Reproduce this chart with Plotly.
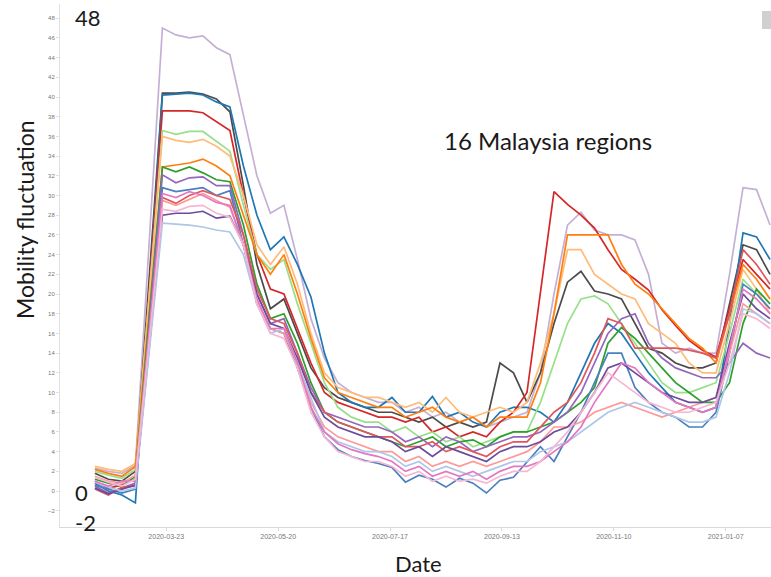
import pandas as pd
import plotly.graph_objects as go

# weekly observation dates
dates = pd.date_range("2020-02-15", periods=51, freq="7D")

region_01 = [2.3, 2.0, 1.8, 2.6, 24.8, 47.0, 46.3, 46.0, 46.2, 45.0, 44.3,
             38, 32, 28.2, 29.0, 23.5, 17.5, 13.5,
             11, 10, 9.5, 9, 9, 8, 8.5, 7.5, 8, 7, 7.5, 6.5, 7, 7.5,
             8, 12, 20, 27, 28.3, 26.5, 26, 26, 25.5,
             22, 15, 14, 14.5, 14, 14,
             22, 30.8, 30.6, 27]
region_02 = [1.8, 1.2, 1.0, 2.0, 21.2, 40.4, 40.4, 40.5, 40.3, 39.8, 38.5,
             31, 23, 18.5, 19.5, 16, 12.5, 10.5,
             9.5, 9, 8.5, 8, 8, 7.5, 7, 7.5, 6.5, 7, 6.5, 7, 13, 12,
             9, 12, 17, 21.2, 22.3, 20.3, 20, 19.5, 17,
             14.5, 14, 13, 12.5, 12.5, 13,
             19, 25, 24.5, 22]
region_03 = [0.8, 0.0, -0.4, -1.2, 19.5, 40.2, 40.3, 40.4, 40.2, 39.5, 39.0,
             33, 28, 24.5, 25.8, 23, 19.7, 14,
             10, 9, 8.5, 8.5, 9.5, 8, 8, 9.6, 7.5, 8, 7, 6.5, 8, 8.5,
             8.5, 8, 7, 9, 12, 15, 17, 16, 14,
             12, 10.5, 9, 8.5, 8, 8.5,
             17, 26.2, 25.8, 23.5]
region_04 = [1.0, 0.3, 0.6, 1.2, 19.9, 38.6, 38.6, 38.6, 38.4, 37.5, 36.6,
             30, 24, 20.5, 20, 16.5, 13, 10,
             9, 8.5, 8, 7.5, 7.5, 7, 7.5, 6, 6.5, 5.5, 6, 5.5, 7, 8,
             10, 20, 30.4, 29.1, 28, 26.7, 24.5, 22.5, 21.5,
             20.4, 18.4, 16.8, 15.3, 14.3, 13.6,
             18.5, 23.5, 22, 20.5]
region_05 = [2.0, 1.6, 1.3, 2.2, 19.4, 36.6, 36.2, 36.5, 36.5, 35.5, 34.5,
             29, 24, 22.5, 23.5, 19, 15, 11,
             8.5, 7.5, 7, 7, 6, 6.5, 5.5, 6, 5, 5.5, 4.5, 5, 5.5, 6,
             6, 9, 13, 17, 19.5, 19.8, 19, 17, 15,
             13, 11, 10, 10, 10.5, 11,
             16, 21.5, 20, 18.5]
region_06 = [2.5, 2.2, 2.0, 2.8, 19.4, 36.0, 35.6, 35.4, 35.7, 35.0, 34.0,
             30, 25, 23, 24.8, 21, 16, 12,
             10.5, 10, 9.5, 9.5, 9, 8.5, 9, 8, 9.5, 8, 7.5, 8, 8.5, 8,
             9, 13, 18, 24.5, 24.5, 22, 21, 20, 19.5,
             17, 16, 15, 13, 12, 12,
             17, 22.5, 20.5, 18]
region_07 = [2.2, 1.8, 1.5, 2.5, 17.7, 32.9, 33.1, 33.3, 33.7, 33.0, 32.0,
             28, 24, 22, 24, 20, 15.5, 11.5,
             10, 9.5, 9, 8.5, 8.5, 7.5, 8, 8.5, 7.5, 7, 7.5, 6.5, 7.5, 7.5,
             7.5, 11, 18, 26, 26, 26, 26, 23, 21,
             20, 18.5, 17, 15.5, 14.5, 13,
             18, 23, 21.5, 19.5]
region_08 = [1.2, 0.8, 0.5, 1.5, 17.2, 32.9, 32.4, 32.9, 32.3, 31.6, 31.4,
             27, 21, 17.5, 18, 15, 11, 8,
             7, 6.5, 6, 5.5, 5, 4.5, 5, 5.5, 4.5, 5, 5.2, 4.5, 5.5, 6,
             6, 6.5, 7, 8, 9, 10.5, 15, 16.6, 15.5,
             14, 12.5, 11, 10, 9, 9,
             11, 17, 20.5, 19]
region_09 = [0.5, -0.2, 0.3, 0.8, 16.5, 32.1, 31.3, 31.8, 31.9, 31.0, 31.0,
             26, 20, 17, 17.5, 14, 10.5, 8,
             7.5, 7, 6.5, 6.5, 6, 5, 5.5, 4.5, 5.5, 5, 4, 4.5, 5, 5.5,
             5.5, 6, 7, 8, 10, 13, 16, 17.5, 18,
             15, 13.5, 12.5, 12, 11.5, 11.5,
             13, 15, 14, 13.5]
region_10 = [0.6, 0.2, -0.2, 0.2, 15.5, 30.8, 30.4, 30.6, 30.8, 30.0, 30.5,
             25, 19, 16.5, 16, 12.5, 8.5, 5.5,
             4.2, 3.5, 3.1, 2.8, 2.4, 0.9, 1.6, 1.2, 0.4, 1.3, 0.8, -0.2, 1.1, 1.4,
             3, 4.5, 3, 5.5, 8, 11, 14, 14, 10.5,
             9, 8, 7.5, 6.5, 6.5, 8,
             14, 21, 20, 18.5]
region_11 = [0.2, -0.4, 0.4, 0.5, 15.2, 29.8, 29.2, 30.0, 30.5, 30.0, 29.6,
             26, 20.5, 17.5, 17, 14, 10, 8,
             7, 6.5, 6, 5.5, 5.5, 4.5, 4.5, 5, 4, 4.5, 4, 3.5, 4.5, 5,
             5, 6.5, 8, 9, 11, 14, 17.5, 17, 14.5,
             14.5, 14.5, 14.5, 14.3, 14, 13.5,
             18, 24.5, 23, 21]
region_12 = [1.5, 1.0, 0.8, 1.6, 15.6, 29.5, 29.0, 29.6, 30.2, 29.5, 28.8,
             25, 19, 16.5, 16, 13, 9, 6.5,
             5.5, 5, 4.5, 4, 4, 3, 3.5, 2.5, 3, 2.5, 3, 2.5, 3, 3.5,
             4, 5, 6.5, 6.5, 7, 8, 8.5, 9, 8.5,
             8, 7.5, 8, 8.5, 9, 9.5,
             14, 19, 18, 17]
region_13 = [0.3, -0.3, 0.2, 0.6, 14.3, 28.0, 28.2, 28.2, 28.4, 27.7, 27.9,
             25, 20, 17, 16.5, 13.5, 10, 7.5,
             6.5, 6, 5.5, 5.5, 5, 4, 4.5, 3.5, 4.5, 4, 3.5, 3, 4, 4.5,
             4.5, 5, 6, 6.5, 8, 10, 12.5, 13, 12,
             11, 10, 9.5, 9, 9, 9.5,
             15, 20, 18.5, 17.5]
region_14 = [0.9, 0.4, 0.0, 0.3, 13.8, 27.2, 27.1, 27.0, 26.8, 26.5, 26.3,
             24, 19, 16, 16.5, 13, 9.5, 6,
             5, 4.5, 4, 4, 3.5, 2.5, 3, 2, 2.5, 2, 1.5, 2, 2.5, 3,
             3, 4, 4.5, 5, 6, 7, 8, 8.5, 9,
             8.5, 8, 7.5, 7, 7, 7.5,
             12, 18.5, 18, 17]
region_15 = [1.0, 0.5, 1.0, 1.0, 15.6, 30.2, 29.8, 30.4, 30.0, 29.3, 29.0,
             25, 19.5, 16.5, 16.5, 13, 8.5, 6,
             4.8, 4.2, 3.8, 3.5, 3, 2, 2.5, 1.5, 2, 1.5, 2, 1.2, 2, 2.5,
             2.5, 3, 4, 5, 6.5, 9, 11, 13, 12.5,
             11, 10, 9, 8.5, 8, 8.5,
             14.5, 20.5, 19.5, 18]
region_16 = [1.4, 0.9, 0.5, 1.2, 14.9, 28.6, 28.4, 28.9, 29.0, 28.2, 27.8,
             25, 19, 16, 15.5, 12.5, 8, 5.5,
             4, 3.5, 3, 3, 2.5, 1.5, 2, 1, 1.5, 1, 1.2, 0.8, 1.5, 2,
             2, 3, 4.5, 6, 8, 10, 12, 11, 10,
             9, 8.5, 8, 8, 8.5, 9,
             13, 18, 17.5, 16.5]

line_colors = ["#c5b0d5", "#4d4a4a", "#1f77b4", "#d62728", "#98df8a", "#ffbb78",
               "#ff7f0e", "#2ca02c", "#9467bd", "#4a7fc0", "#e0575b", "#ff9896",
               "#6b4c9a", "#aec7e8", "#e377c2", "#f7b6d2"]

y_tick_values = list(range(-2, 49, 2))
x_tick_dates = ["2020-03-23", "2020-05-20", "2020-07-17",
                "2020-09-13", "2020-11-10", "2021-01-07"]

series = [region_01, region_02, region_03, region_04, region_05, region_06,
          region_07, region_08, region_09, region_10, region_11, region_12,
          region_13, region_14, region_15, region_16]

fig = go.Figure()
for i, (vals, col) in enumerate(zip(series, line_colors)):
    assert len(vals) == len(dates), (i, len(vals))
    fig.add_trace(go.Scatter(x=dates, y=vals, mode="lines",
                             line=dict(color=col, width=1.7),
                             name=f"Region {i + 1}", showlegend=False))

W, H = 771, 577
L, R, T, B = 60, 0, 4, 50
pw, ph = W - L - R, H - T - B


def px(x, y):
    return (x - L) / pw, (H - B - y) / ph


def label(text, cx, cy, size, angle=0):
    ax, ay = px(cx, cy)
    return dict(text=text, x=ax, y=ay, xref="paper", yref="paper",
                xanchor="center", yanchor="middle", showarrow=False,
                textangle=angle,
                font=dict(family="Lato, Open Sans, sans-serif", size=size, color="#1a1a1a"))


annos = [
    label("48", 88, 17, 22),
    label("0", 81, 492, 22),
    label("-2", 85, 522, 22),
    label("16 Malaysia regions", 548, 140, 24),
    label("Date", 418, 563, 22),
    label("Mobility fluctuation", 25, 220, 23, angle=-90),
]

sx0, sy1 = px(762, 11)
sx1, sy0 = px(772, 29)

fig.update_layout(
    width=W, height=H,
    margin=dict(l=L, r=R, t=T, b=B),
    paper_bgcolor="white", plot_bgcolor="white",
    annotations=annos,
    shapes=[dict(type="rect", xref="paper", yref="paper", x0=sx0, x1=sx1, y0=sy0, y1=sy1,
                 fillcolor="#c4c4c4", line=dict(width=0), opacity=0.8)],
    xaxis=dict(range=["2020-01-27 22:00", "2021-01-30 12:00"],
               tickvals=x_tick_dates, tickformat="%Y-%m-%d",
               tickfont=dict(family="Liberation Sans, Arial", size=7, color="#777777"),
               showgrid=False, zeroline=False, showline=True, linecolor="#d9d9d9", linewidth=1,
               ticks="outside", ticklen=3, tickcolor="#d9d9d9"),
    yaxis=dict(range=[-3.65, 49.44], tickvals=y_tick_values,
               tickfont=dict(family="Liberation Sans, Arial", size=6, color="#777777"),
               showgrid=False, zeroline=False, showline=True, linecolor="#e0e0e0", linewidth=1,
               ticks="outside", ticklen=3, tickcolor="#e0e0e0"),
)

fig.write_html("out.html")
